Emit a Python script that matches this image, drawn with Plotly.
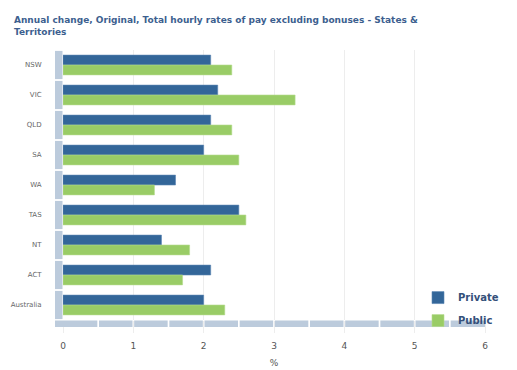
import plotly.graph_objects as go

categories = ["NSW", "VIC", "QLD", "SA", "WA", "TAS", "NT", "ACT", "Australia"]
private = [2.1, 2.2, 2.1, 2.0, 1.6, 2.5, 1.4, 2.1, 2.0]
public = [2.4, 3.3, 2.4, 2.5, 1.3, 2.6, 1.8, 1.7, 2.3]
x_ticks = [0, 1, 2, 3, 4, 5, 6]

# page body adds an 8px offset, so the figure is slightly smaller
W, H = 509, 362
L, R, T, B = 55, 32, 42, 49.5
pw = W - L - R
ph = H - T - B

C_PRIV = "#336699"
C_PUB = "#99cc66"
STRIP = "#bccbdc"

fig = go.Figure()
fig.add_trace(go.Bar(y=categories, x=private, name="Private", orientation="h",
                     legendgroup="a",
                     marker=dict(color=C_PRIV, line=dict(color="#5d87b3", width=0.6))))
fig.add_trace(go.Bar(y=categories, x=public, name="Public", orientation="h",
                     legendgroup="b",
                     marker=dict(color=C_PUB, line=dict(color="#b5dc8f", width=0.6))))

shapes = []
# left segmented strip
lx0 = -8 / pw
lx1 = -0.5 / pw
for i in range(len(categories)):
    shapes.append(dict(type="rect", xref="paper", yref="y", x0=lx0, x1=lx1,
                       y0=i - 0.5 + 0.03, y1=i + 0.5 - 0.03,
                       fillcolor=STRIP, line=dict(width=0), layer="above"))
# bottom segmented strip
by0 = -7 / ph
by1 = -0.5 / ph
gap = 0.012
xmax = x_ticks[-1]
nseg = int(xmax / 0.5)
for k in range(nseg):
    a = k * 0.5 + (gap if k > 0 else 0)
    b = (k + 1) * 0.5 - (gap if k < nseg - 1 else 0)
    if k == 0:
        shapes.append(dict(type="rect", xref="paper", yref="paper",
                           x0=lx0, x1=b / xmax, y0=by0, y1=by1,
                           fillcolor=STRIP, line=dict(width=0), layer="above"))
    else:
        shapes.append(dict(type="rect", xref="x", yref="paper", x0=a, x1=b,
                           y0=by0, y1=by1, fillcolor=STRIP, line=dict(width=0),
                           layer="above"))

fig.update_layout(
    width=W, height=H,
    margin=dict(l=L, r=R, t=T, b=B, autoexpand=False),
    paper_bgcolor="white", plot_bgcolor="white",
    barmode="group", bargap=0.34, bargroupgap=0.0,
    font=dict(family="DejaVu Sans", color="#555555"),
    title=dict(text="Annual change, Original, Total hourly rates of pay excluding bonuses - States &<br>Territories",
               x=6 / W, xanchor="left", y=1 - 15 / H, yanchor="top",
               font=dict(family="DejaVu Sans", size=9, color="#3d5f8f", weight="bold")),
    xaxis=dict(range=[0, 6], tickvals=x_ticks, showgrid=True, gridcolor="#ededed",
               gridwidth=1, zeroline=False, showline=False, automargin=False,
               ticks="outside", ticklen=12, tickcolor="#ededed",
               tickfont=dict(size=9, color="#555555"), ticklabelstandoff=5,
               title=dict(text="%", font=dict(size=9, color="#555555"), standoff=9)),
    yaxis=dict(autorange="reversed", showgrid=False, zeroline=False, showline=False,
               automargin=False,
               ticks="outside", ticklen=19, tickcolor="rgba(0,0,0,0)",
               tickfont=dict(size=7, color="#666666")),
    legend=dict(x=(410 - L) / pw, y=(H - B - 275.5) / ph, xanchor="left", yanchor="top",
                bgcolor="rgba(0,0,0,0)", font=dict(size=10, color="#34507a", weight="bold"),
                itemwidth=30, tracegroupgap=4),
    shapes=shapes,
    showlegend=True,
)

fig.write_html("out.html")
